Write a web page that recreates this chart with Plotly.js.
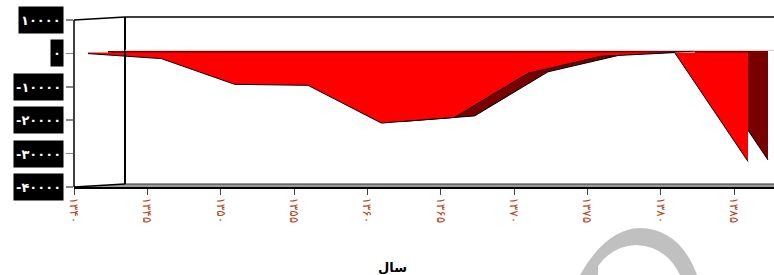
<!DOCTYPE html>
<html>
<head>
<meta charset="utf-8">
<script src="https://cdn.plot.ly/plotly-3.0.1.min.js"></script>
<style>html,body{margin:0;padding:0;background:#fff;}#chart{width:774px;height:275px;}</style>
</head>
<body>
<div id="chart"></div>
<script>
// ---- data ----
const years = [1340, 1345, 1350, 1355, 1360, 1365, 1370, 1375, 1380, 1385];
const values = [-300, -1800, -9500, -9800, -21100, -19400, -6200, -1100, 0, -32600];
const xTickText = ['۱۳۴۰','۱۳۴۵','۱۳۵۰','۱۳۵۵','۱۳۶۰','۱۳۶۵','۱۳۷۰','۱۳۷۵','۱۳۸۰','۱۳۸۵'];
const yTickVals = [10000, 0, -10000, -20000, -30000, -40000];
const yTickText = ['۱۰۰۰۰','۰','-۱۰۰۰۰','-۲۰۰۰۰','-۳۰۰۰۰','-۴۰۰۰۰'];
const xTitle = 'سال';

// ---- geometry (pixels) ----
const L = 74, T = 17, W = 700, H = 170;
const pxPerYear = 660 / 45;
const xMin = 1340, xMax = xMin + W / pxPerYear;
const unitsPerPx = 50000 / 167;
const yMin = -40000, yMax = yMin + H * unitsPerPx;
const front = {dx: 14, dy: 0.8};
const back = {dx: 34, dy: 2.3};
const px = v => (v - L) / W;
const py = v => (T + H - v) / H;

// back face first (x2/y2), front face on top (x3/y3)
const traces = [
  {x: years, y: values, xaxis: 'x2', yaxis: 'y2', type: 'scatter', mode: 'lines',
   fill: 'tozeroy', fillcolor: '#780000', line: {color: '#000', width: 1}, hoverinfo: 'skip'},
  {x: years, y: values, xaxis: 'x3', yaxis: 'y3', type: 'scatter', mode: 'lines',
   fill: 'tozeroy', fillcolor: '#ff0000', line: {color: '#000', width: 1}, hoverinfo: 'skip'}
];

function pathPx(pts) {
  return pts.map(p => (p[0] === 'Z' ? 'Z' : (p[0] + ' ' + px(p[1]) + ',' + py(p[2])))).join(' ');
}
const line = (x0, y0, x1, y1, color, width) => ({type: 'line', xref: 'paper', yref: 'paper',
  x0: px(x0), y0: py(y0), x1: px(x1), y1: py(y1), line: {color: color, width: width}});

const shapes = [
  // floor
  {type: 'path', xref: 'paper', yref: 'paper', layer: 'below',
   path: pathPx([['M',74,187],['L',125,184],['L',774,184],['L',774,187],['Z']]),
   fillcolor: '#9c9c9c', line: {width: 0}},
  line(125, 184, 774, 184, '#333', 1.2),
  line(74, 187, 125, 184, '#000', 1.5),
  // walls
  line(74, 20, 74, 187, '#000', 1.5),
  line(74, 20, 125, 17, '#000', 1.5),
  line(125, 17, 125, 184, '#000', 2),
  line(125, 17, 774, 17, '#000', 1.5),
  line(125, 50.3, 774, 50.3, '#c8c8c8', 1),
  // watermark arc
  {type: 'path', xref: 'paper', yref: 'paper', layer: 'below',
   path: 'M ' + px(580) + ',' + py(275) +
         ' Q ' + px(606) + ',' + py(229) + ' ' + px(640) + ',' + py(228) +
         ' Q ' + px(680) + ',' + py(229) + ' ' + px(697) + ',' + py(275) +
         ' L ' + px(680) + ',' + py(275) +
         ' Q ' + px(666) + ',' + py(246) + ' ' + px(636) + ',' + py(245) +
         ' Q ' + px(612) + ',' + py(246) + ' ' + px(598) + ',' + py(266) +
         ' L ' + px(598) + ',' + py(275) + ' Z',
   fillcolor: '#c0c0c0', line: {width: 0}}
];

const annotations = yTickVals.map((v, i) => ({
  xref: 'paper', yref: 'y', x: px(64), y: v, xanchor: 'right', yanchor: 'middle',
  text: yTickText[i], showarrow: false, bgcolor: '#000', height: 22, borderpad: 2,
  font: {family: 'DejaVu Sans', size: 13, color: '#fff', weight: 'bold'}
}));
annotations.push({xref: 'paper', yref: 'paper', x: px(392), y: py(267), xanchor: 'center', yanchor: 'middle',
  text: '<b>' + xTitle + '</b>', showarrow: false,
  font: {family: 'DejaVu Sans', size: 13, color: '#000'}});

const layout = {
  width: 774, height: 275,
  margin: {l: L, r: 774 - L - W, t: T, b: 275 - T - H, pad: 0},
  paper_bgcolor: '#fff', plot_bgcolor: '#fff',
  showlegend: false,
  xaxis: {range: [xMin, xMax], tickvals: years, ticktext: xTickText, tickangle: 90,
    ticks: 'outside', ticklen: 6, tickcolor: '#444', tickwidth: 1,
    tickfont: {family: 'DejaVu Sans', size: 12, color: '#b4461a'},
    showline: true, linecolor: '#000', linewidth: 2, showgrid: false, zeroline: false, fixedrange: true},
  yaxis: {range: [yMin, yMax], tickvals: yTickVals, ticks: 'outside', ticklen: 7, tickcolor: '#888', tickwidth: 1.5,
    showticklabels: false, showline: false, showgrid: false, zeroline: false, fixedrange: true},
  xaxis2: {overlaying: 'x', anchor: 'y2', visible: false,
    range: [xMin - back.dx / pxPerYear, xMax - back.dx / pxPerYear]},
  yaxis2: {overlaying: 'y', anchor: 'x2', visible: false,
    range: [yMin - back.dy * unitsPerPx, yMax - back.dy * unitsPerPx]},
  xaxis3: {overlaying: 'x', anchor: 'y3', visible: false,
    range: [xMin - front.dx / pxPerYear, xMax - front.dx / pxPerYear]},
  yaxis3: {overlaying: 'y', anchor: 'x3', visible: false,
    range: [yMin - front.dy * unitsPerPx, yMax - front.dy * unitsPerPx]},
  xaxis4: {overlaying: 'x', anchor: 'free', position: py(52.6), side: 'bottom',
    range: [xMin, xMax], tickvals: years, ticks: 'outside', ticklen: 5, tickcolor: '#000', tickwidth: 1,
    showticklabels: false, showline: true, linecolor: '#000', linewidth: 2, showgrid: false, zeroline: false},
  shapes: shapes,
  annotations: annotations
};

Plotly.newPlot('chart', traces, layout, {displayModeBar: false, staticPlot: true});
</script>
</body>
</html>
